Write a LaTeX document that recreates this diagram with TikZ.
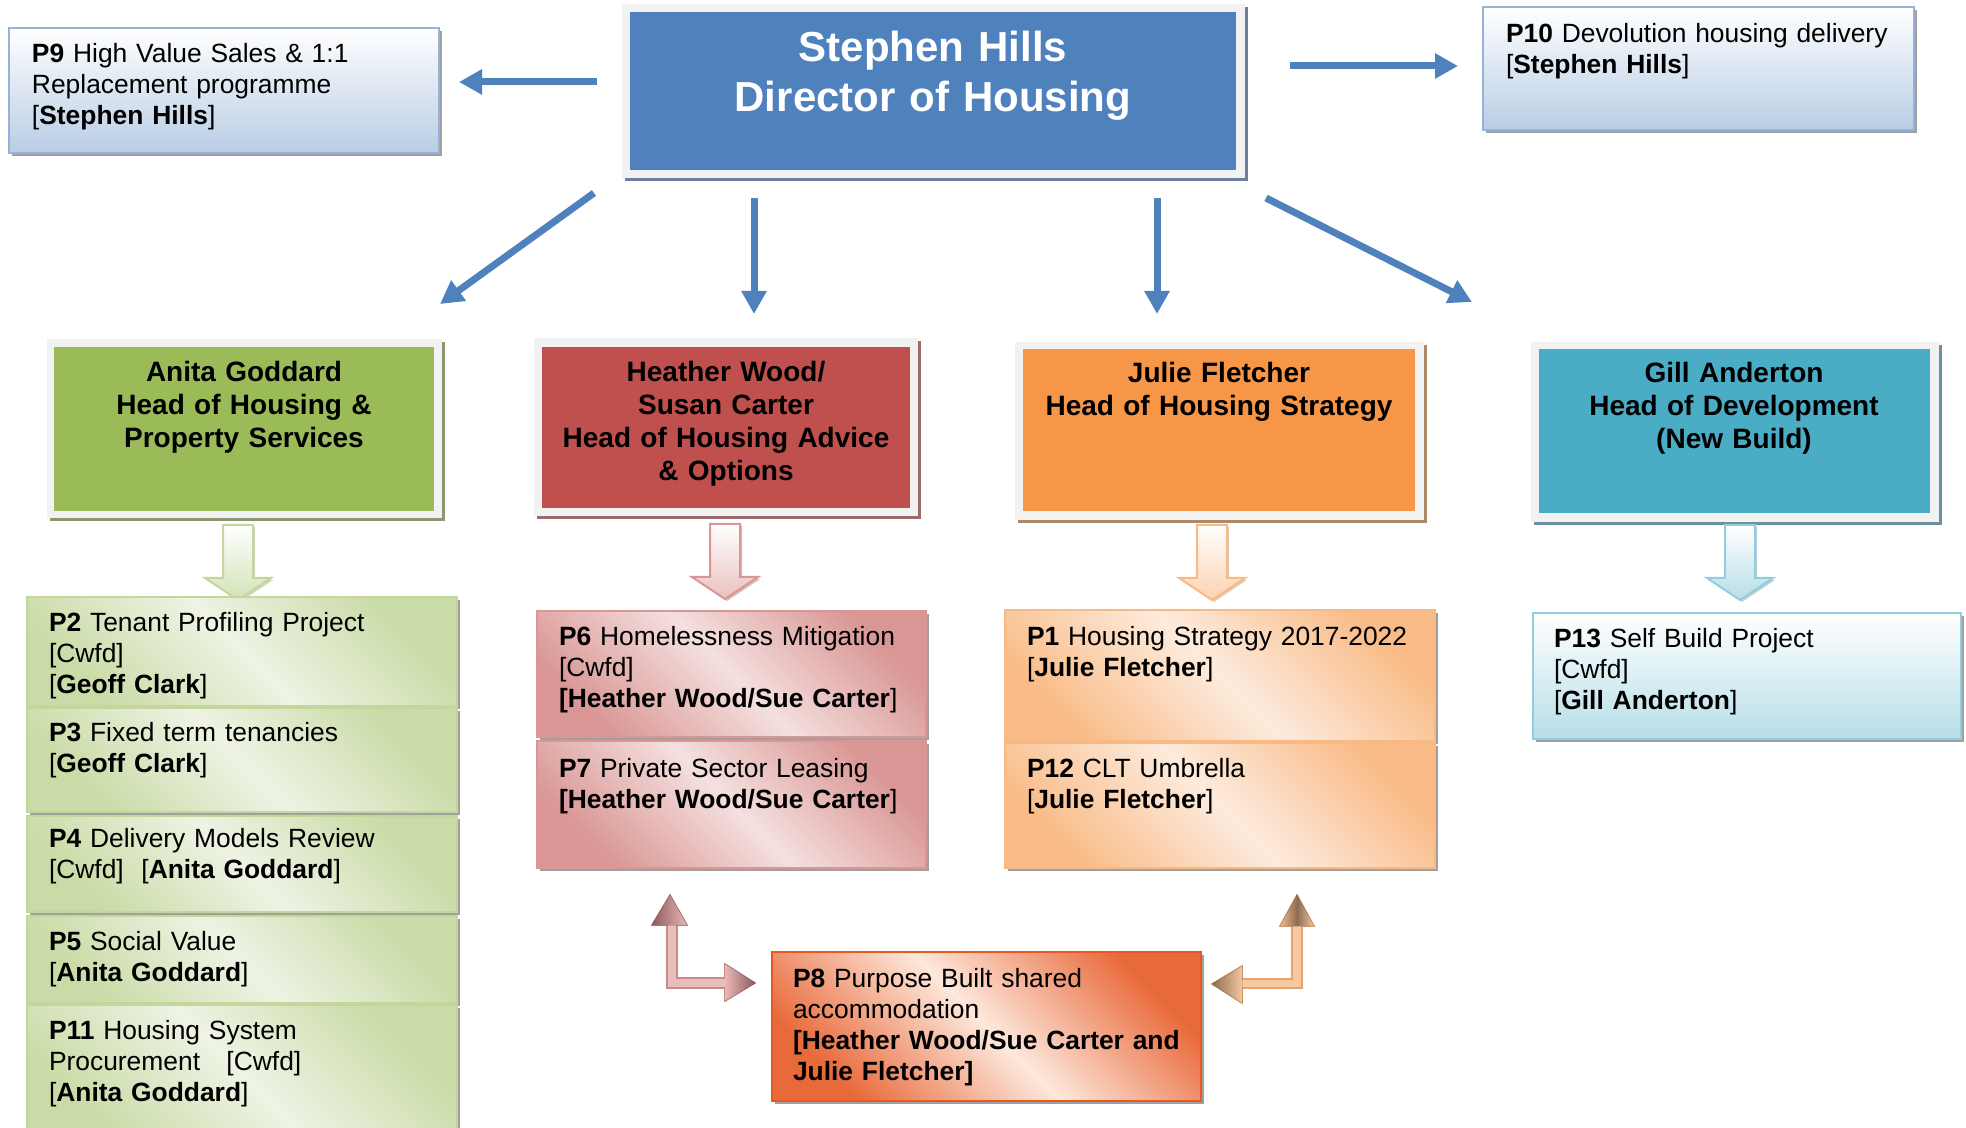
\documentclass[tikz,border=0pt]{standalone}
\usepackage{fontspec}
\setmainfont{Liberation Sans}
\usetikzlibrary{arrows.meta,shadows,calc}
\definecolor{hblue}{HTML}{4F81BD}
\definecolor{mgreen}{HTML}{9BBB59}
\definecolor{mred}{HTML}{C0504D}
\definecolor{morange}{HTML}{F79646}
\definecolor{mteal}{HTML}{4BACC6}
\definecolor{frameg}{HTML}{F2F2F2}
\definecolor{pgD}{HTML}{C9DBA6}
\definecolor{pgL}{HTML}{EEF3E4}
\definecolor{pgB}{HTML}{C3D69B}
\definecolor{pkD}{HTML}{D99694}
\definecolor{pkL}{HTML}{F4E0DF}
\definecolor{pkB}{HTML}{D99694}
\definecolor{poD}{HTML}{F9BC88}
\definecolor{poL}{HTML}{FDEBDD}
\definecolor{poB}{HTML}{F8B985}
\definecolor{prD}{HTML}{E8693A}
\definecolor{prL}{HTML}{FDE8DC}
\definecolor{prB}{HTML}{E65A22}
\definecolor{ptB}{HTML}{93CDDD}
\definecolor{ptD}{HTML}{B7DEE8}
\definecolor{pbB}{HTML}{95B3D7}
\definecolor{pbD}{HTML}{B9CDE5}
\definecolor{hgF}{HTML}{D2E2B6}
\definecolor{hrF}{HTML}{E9C0BF}
\definecolor{hoF}{HTML}{FBD3B0}
\definecolor{htF}{HTML}{B7DEE8}
\definecolor{elRd}{HTML}{C98A89}
\definecolor{elRf}{HTML}{E8BDBC}
\definecolor{elRk}{HTML}{8C5B5B}
\definecolor{elRl}{HTML}{E8B7B6}
\definecolor{elOd}{HTML}{E3A46F}
\definecolor{elOf}{HTML}{F8C9A0}
\definecolor{elOk}{HTML}{8E6C52}
\definecolor{elOl}{HTML}{F2C79F}
\definecolor{elOm}{HTML}{EDBB90}
\definecolor{shgray}{HTML}{A0A0A0}
\tikzset{
  every node/.style={inner sep=0pt, outer sep=0pt},
  bx/.style 2 args={rectangle, anchor=north west, minimum width=#1*0.5pt, minimum height=#2*0.5pt},
  shad/.style={drop shadow={shadow xshift=1.5pt,shadow yshift=-1.5pt,fill=#1,opacity=1}},
  frm/.style={fill=frameg},
  proj/.style={line width=1pt},
  diag/.style n args={3}{draw=#1, left color=#2, right color=#2, middle color=#3, shading angle=135},
  vert/.style n args={2}{draw=#1, top color=white, bottom color=#2},
  ptext/.style={anchor=base west, text width=215pt, align=left, font=\fontsize{13.2}{15.5}\selectfont},
  mtext/.style={anchor=base, text width=190pt, align=center, font=\fontsize{14}{16.5}\selectfont\bfseries},
  htext/.style={anchor=base, text width=300pt, align=center, text=white, font=\fontsize{21}{25}\selectfont\bfseries},
  bluearrow/.style={draw=hblue, line width=3.5pt, -{Triangle[width=12pt,length=11.5pt]}},
}
\newcommand{\hollowdown}[3]{%
  \draw[draw=#3, line width=1pt, top color=white, bottom color=#2,
        drop shadow={shadow xshift=1pt,shadow yshift=-1pt,fill=#3!70!gray,opacity=0.6}]
   ($(#1)+(-15,0)$) -- ($(#1)+(15,0)$) -- ($(#1)+(15,53)$) -- ($(#1)+(33,53)$)
   -- ($(#1)+(0,75)$) -- ($(#1)+(-33,53)$) -- ($(#1)+(-15,53)$) -- cycle;}
\begin{document}
\begin{tikzpicture}[x=0.5pt, y=-0.5pt]
\useasboundingbox (0,0) rectangle (1966,1128);

% ---------- header ----------
\node[bx={623}{174}, frm, shad=hblue!45!gray] (topF) at (622,4) {};
\node[bx={606}{158}, fill=hblue] (top) at (630,12) {};
\node[htext] (topT) at (933,62) {Stephen Hills\\Director of Housing};

% ---------- P9 / P10 ----------
\node[bx={430}{125}, proj, vert={pbB}{pbD}, shad=shgray] (p9) at (9,28) {};
\node[ptext] (p9t) at (32,63) {\textbf{P9} High Value Sales \& 1:1\\Replacement programme\\{[}\textbf{Stephen Hills}]};
\node[bx={431}{123}, proj, vert={pbB}{pbD}, shad=shgray] (p10) at (1483,7) {};
\node[ptext] (p10t) at (1506,43) {\textbf{P10} Devolution housing delivery\\{[}\textbf{Stephen Hills}]};

% ---------- managers ----------
\node[bx={395}{179}, frm, shad=mgreen!40!gray] (agF) at (47,339) {};
\node[bx={380}{164}, fill=mgreen] (ag) at (54,347) {};
\node[mtext] (agT) at (244,382) {Anita Goddard\\Head of Housing \&\\Property Services};

\node[bx={384}{178}, frm, shad=mred!40!gray] (hwF) at (534,338) {};
\node[bx={368}{161}, fill=mred] (hw) at (542,347) {};
\node[mtext] (hwT) at (726,382) {Heather Wood/\\Susan Carter\\Head of Housing Advice\\\& Options};

\node[bx={409}{178}, frm, shad=morange!40!gray] (jfF) at (1015,342) {};
\node[bx={392}{162}, fill=morange] (jf) at (1023,349) {};
\node[mtext] (jfT) at (1219,383) {Julie Fletcher\\Head of Housing Strategy};

\node[bx={408}{180}, frm, shad=mteal!40!gray] (gaF) at (1531,342) {};
\node[bx={391}{164}, fill=mteal] (ga) at (1539,349) {};
\node[mtext] (gaT) at (1734,383) {Gill Anderton\\Head of Development\\(New Build)};

% ---------- blue arrows ----------
\coordinate (a1s) at (597,82);   \coordinate (a1e) at (459,82);
\coordinate (a2s) at (1290,66);  \coordinate (a2e) at (1458,66);
\coordinate (a3s) at (594,193);  \coordinate (a3e) at (440,304);
\coordinate (a4s) at (754,198);  \coordinate (a4e) at (754,314);
\coordinate (a5s) at (1157,198); \coordinate (a5e) at (1157,314);
\coordinate (a6s) at (1266,198); \coordinate (a6e) at (1472,302);
\draw[bluearrow] (a1s) -- (a1e);
\draw[bluearrow] (a2s) -- (a2e);
\draw[bluearrow] (a3s) -- (a3e);
\draw[bluearrow] (a4s) -- (a4e);
\draw[bluearrow] (a5s) -- (a5e);
\draw[bluearrow] (a6s) -- (a6e);

% ---------- hollow down arrows ----------
\coordinate (dg) at (238,525);
\coordinate (dr) at (725,524);
\coordinate (do) at (1212,525);
\coordinate (dt) at (1740,525);
\hollowdown{dg}{hgF}{pgB}
\hollowdown{dr}{hrF}{pkB}
\hollowdown{do}{hoF}{poB}
\hollowdown{dt}{htF}{ptB}

% ---------- green projects ----------
\node[bx={430}{109}, proj, diag={pgB}{pgD}{pgL}, shad=shgray] (p2) at (27,597) {};
\node[ptext] (p2t) at (49,632) {\textbf{P2} Tenant Profiling Project\\{[}Cwfd]\\{[}\textbf{Geoff Clark}]};
\node[bx={430}{104}, proj, diag={pgB}{pgD}{pgL}, shad=shgray] (p3) at (27,708) {};
\node[ptext] (p3t) at (49,741) {\textbf{P3} Fixed term tenancies\\{[}\textbf{Geoff Clark}]};
\node[bx={430}{96}, proj, diag={pgB}{pgD}{pgL}, shad=shgray] (p4) at (27,816) {};
\node[ptext] (p4t) at (49,847) {\textbf{P4} Delivery Models Review\\{[}Cwfd]~~[\textbf{Anita Goddard}]};
\node[bx={430}{87}, proj, diag={pgB}{pgD}{pgL}, shad=shgray] (p5) at (27,916) {};
\node[ptext] (p5t) at (49,950) {\textbf{P5} Social Value\\{[}\textbf{Anita Goddard}]};
\node[bx={430}{135}, proj, diag={pgB}{pgD}{pgL}, shad=shgray] (p11) at (27,1005) {};
\node[ptext] (p11t) at (49,1039) {\textbf{P11} Housing System\\Procurement~~~[Cwfd]\\{[}\textbf{Anita Goddard}]};

% ---------- red projects ----------
\node[bx={389}{126}, proj, diag={pkB}{pkD}{pkL}, shad=shgray] (p6) at (537,611) {};
\node[ptext] (p6t) at (559,646) {\textbf{P6} Homelessness Mitigation\\{[}Cwfd]\\\textbf{[Heather Wood/Sue Carter}]};
\node[bx={389}{127}, proj, diag={pkB}{pkD}{pkL}, shad=shgray] (p7) at (537,741) {};
\node[ptext] (p7t) at (559,777) {\textbf{P7} Private Sector Leasing\\\textbf{[Heather Wood/Sue Carter}]};

% ---------- orange projects ----------
\node[bx={430}{131}, proj, diag={poB}{poD}{poL}, shad=shgray] (p1) at (1005,610) {};
\node[ptext] (p1t) at (1027,646) {\textbf{P1} Housing Strategy 2017-2022\\{[}\textbf{Julie Fletcher}]};
\node[bx={430}{125}, proj, diag={poB}{poD}{poL}, shad=shgray] (p12) at (1005,743) {};
\node[ptext] (p12t) at (1027,777) {\textbf{P12} CLT Umbrella\\{[}\textbf{Julie Fletcher}]};

% ---------- teal project ----------
\node[bx={428}{126}, proj, vert={ptB}{ptD}, shad=shgray] (p13) at (1533,613) {};
\node[ptext] (p13t) at (1554,647) {\textbf{P13} Self Build Project\\{[}Cwfd]\\{[}\textbf{Gill Anderton}]};

% ---------- P8 ----------
\node[bx={429}{149}, proj, diag={prB}{prD}{prL}, shad=shgray] (p8) at (772,952) {};
\node[ptext] (p8t) at (793,987) {\textbf{P8} Purpose Built shared\\accommodation\\\textbf{[Heather Wood/Sue Carter and}\\\textbf{Julie Fletcher]}};

% ---------- elbow arrows ----------
\coordinate (eLup) at (670,895);
\coordinate (eLri) at (755,983);
\draw[draw=elRd, fill=elRf, line width=0.8pt]
  (eLup) -- (687,925) -- (677,925) -- (677,978) -- (725,978) -- (725,964) -- (eLri)
  -- (725,1001) -- (725,988) -- (667,988) -- (667,925) -- (652,925) -- cycle;
\fill[left color=elRk, right color=elRl] (eLup) -- (687,925) -- (652,925) -- cycle;
\fill[left color=elRl, right color=elRk] (725,964) -- (eLri) -- (725,1001) -- cycle;

\coordinate (eRup) at (1297,895);
\coordinate (eRle) at (1212,984);
\draw[draw=elOd, fill=elOf, line width=0.8pt]
  (eRup) -- (1314,926) -- (1302,926) -- (1302,988) -- (1242,988) -- (1242,1003) -- (eRle)
  -- (1242,966) -- (1242,979) -- (1292,979) -- (1292,926) -- (1280,926) -- cycle;
\fill[left color=elOm, right color=elOl, middle color=elOk] (eRup) -- (1314,926) -- (1280,926) -- cycle;
\fill[left color=elOk, right color=elOl] (1242,966) -- (eRle) -- (1242,1003) -- cycle;
\end{tikzpicture}
\end{document}
